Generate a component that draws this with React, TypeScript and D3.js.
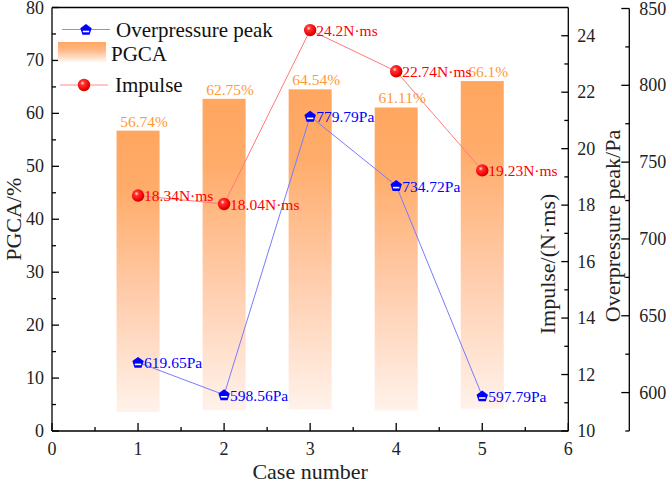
import React from "react";
import * as d3 from "d3";

const cases = [1, 2, 3, 4, 5];
const pgca = [56.74, 62.75, 64.54, 61.11, 66.1];
const pgcaLabels = ["56.74%", "62.75%", "64.54%", "61.11%", "66.1%"];
const impulse = [18.34, 18.04, 24.2, 22.74, 19.23];
const impulseLabels = ["18.34N·ms", "18.04N·ms", "24.2N·ms", "22.74N·ms", "19.23N·ms"];
const overpressure = [619.65, 598.56, 779.79, 734.72, 597.79];
const overLabels = ["619.65Pa", "598.56Pa", "779.79Pa", "734.72Pa", "597.79Pa"];
const xTicks = [0, 1, 2, 3, 4, 5, 6];
const pgcaTicks = [0, 10, 20, 30, 40, 50, 60, 70, 80];
const impulseTicks = [10, 12, 14, 16, 18, 20, 22, 24];
const overTicks = [600, 650, 700, 750, 800, 850];

const W = 666;
const H = 489;
const L = 52;
const R = 568.3;
const T = 7.5;
const B = 431;
const OX = 629.3;
const FONT = "'Times New Roman', 'Liberation Serif', 'DejaVu Serif', serif";
const LABEL_FS = 15.5;

const x = d3.scaleLinear().domain([0, 6]).range([L, R]);
const yP = d3.scaleLinear().domain([0, 80]).range([B, T]);
const yI = d3.scaleLinear().domain([10, 25]).range([B, T]);
const yO = d3.scaleLinear().domain([575, 850]).range([B, 8.5]);

function pentagon(cx: number, cy: number, r: number) {
  const pts = d3.range(5).map((i) => {
    const a = -Math.PI / 2 + (i * 2 * Math.PI) / 5;
    return [cx + r * Math.cos(a), cy + r * Math.sin(a) + 0.5];
  });
  return pts.map((p) => p.join(",")).join(" ");
}

function PentMarker({ cx, cy }: { cx: number; cy: number }) {
  return (
    <g>
      <polygon points={pentagon(cx, cy, 6)} fill="#0000FF" />
      <rect x={cx - 3.2} y={cy + 1.2} width={6.4} height={1.6} fill="#ffffff" />
    </g>
  );
}

function Sphere({ cx, cy }: { cx: number; cy: number }) {
  return <circle cx={cx} cy={cy} r={6.2} fill="url(#sphereGrad)" />;
}

function T_({ children, ...rest }: any) {
  return (
    <text fontFamily={FONT} {...rest}>
      {children}
    </text>
  );
}

export default function App() {
  const barW = x(0.5) - x(0);
  const impLine = d3
    .line<number>()
    .x((_, i) => x(cases[i]))
    .y((d) => yI(d))(impulse) as string;
  const ovLine = d3
    .line<number>()
    .x((_, i) => x(cases[i]))
    .y((d) => yO(d))(overpressure) as string;

  const xMinor = d3.range(0.5, 6, 1);
  const pMinor = d3.range(5, 80, 10);
  const iMinor = d3.range(11, 25, 2);
  const oMinor = d3.range(575, 850, 50);

  return (
    <svg
      width={W}
      height={H}
      style={{ position: "absolute", left: 0, top: 0, background: "#fff" }}
    >
      <defs>
        <linearGradient id="barGrad" x1="0" y1="0" x2="0" y2="1">
          <stop offset="0" stopColor="#FFA660" />
          <stop offset="0.2" stopColor="#FFAC6A" />
          <stop offset="0.55" stopColor="#FFCCAB" />
          <stop offset="0.935" stopColor="#FFF2EA" />
          <stop offset="0.94" stopColor="#FFFFFF" stopOpacity="0" />
          <stop offset="1" stopColor="#FFFFFF" stopOpacity="0" />
        </linearGradient>
        <linearGradient id="legGrad" x1="0" y1="0" x2="0" y2="1">
          <stop offset="0" stopColor="#FFA762" />
          <stop offset="0.4" stopColor="#FFB884" />
          <stop offset="1" stopColor="#FFF6F0" />
        </linearGradient>
        <radialGradient id="sphereGrad" cx="0.38" cy="0.35" r="0.7">
          <stop offset="0" stopColor="#FFE0E0" />
          <stop offset="0.25" stopColor="#FF3030" />
          <stop offset="0.75" stopColor="#F00000" />
          <stop offset="1" stopColor="#B00000" />
        </radialGradient>
      </defs>

      {pgca.map((v, i) => (
        <rect
          key={"b" + i}
          x={x(cases[i]) - barW / 2}
          y={yP(v)}
          width={barW}
          height={yP(0) - yP(v)}
          fill="url(#barGrad)"
        />
      ))}
      {pgca.map((v, i) => (
        <T_
          key={"bl" + i}
          x={x(cases[i]) + 6}
          y={yP(v) - 4}
          textAnchor="middle"
          fontSize={LABEL_FS}
          fill="#FF9A33"
        >
          {pgcaLabels[i]}
        </T_>
      ))}

      <path d={impLine} fill="none" stroke="#FF7A7A" strokeWidth={1} />
      <path d={ovLine} fill="none" stroke="#7A7AFF" strokeWidth={1} />

      {impulse.map((v, i) => (
        <g key={"i" + i}>
          <Sphere cx={x(cases[i])} cy={yI(v)} />
          <T_ x={x(cases[i]) + 6} y={yI(v) + 5.5} fontSize={LABEL_FS} fill="#FF0000">
            {impulseLabels[i]}
          </T_>
        </g>
      ))}
      {overpressure.map((v, i) => (
        <g key={"o" + i}>
          <PentMarker cx={x(cases[i])} cy={yO(v)} />
          <T_ x={x(cases[i]) + 6} y={yO(v) + 6} fontSize={LABEL_FS} fill="#0000FF">
            {overLabels[i]}
          </T_>
        </g>
      ))}

      <g stroke="#000" strokeWidth={1.3} fill="none">
        <line x1={L} x2={R} y1={B} y2={B} />
        <line x1={L} x2={R} y1={T} y2={T} />
        <line x1={L} x2={L} y1={T} y2={B} />
        <line x1={R} x2={R} y1={T} y2={B} />
        <line x1={OX} x2={OX} y1={yO(850)} y2={B} />
      </g>

      <g stroke="#000" strokeWidth={1.3}>
        {xTicks.map((t) => (
          <line key={"xt" + t} x1={x(t)} x2={x(t)} y1={B} y2={B - 8} />
        ))}
        {xMinor.map((t) => (
          <line key={"xm" + t} x1={x(t)} x2={x(t)} y1={B} y2={B - 4} />
        ))}
        {pgcaTicks.map((t) => (
          <line key={"pt" + t} x1={L} x2={L + 7} y1={yP(t)} y2={yP(t)} />
        ))}
        {pMinor.map((t) => (
          <line key={"pm" + t} x1={L} x2={L + 4} y1={yP(t)} y2={yP(t)} />
        ))}
        {impulseTicks.map((t) => (
          <line key={"it" + t} x1={R} x2={R - 7} y1={yI(t)} y2={yI(t)} />
        ))}
        {iMinor.map((t) => (
          <line key={"im" + t} x1={R} x2={R - 4} y1={yI(t)} y2={yI(t)} />
        ))}
        {overTicks.map((t) => (
          <line key={"ot" + t} x1={OX} x2={OX - 8} y1={yO(t)} y2={yO(t)} />
        ))}
        {oMinor.map((t) => (
          <line key={"om" + t} x1={OX} x2={OX - 4} y1={yO(t)} y2={yO(t)} />
        ))}
      </g>

      <g fill="#222">
        {xTicks.map((t) => (
          <T_ key={"xl" + t} x={x(t)} y={455} textAnchor="middle" fontSize={18}>
            {t}
          </T_>
        ))}
        {pgcaTicks.map((t) => (
          <T_ key={"pl" + t} x={L - 8} y={Math.max(yP(t) + 6, 14)} textAnchor="end" fontSize={18}>
            {t}
          </T_>
        ))}
        {impulseTicks.map((t) => (
          <T_ key={"il" + t} x={R + 9} y={yI(t) + 6} textAnchor="start" fontSize={18}>
            {t}
          </T_>
        ))}
        {overTicks.map((t) => (
          <T_ key={"ol" + t} x={OX + 10} y={yO(t) + 6} textAnchor="start" fontSize={18}>
            {t}
          </T_>
        ))}
      </g>

      <g fill="#222">
        <T_ x={(L + R) / 2} y={479} textAnchor="middle" fontSize={22}>
          Case number
        </T_>
        <T_ transform={`translate(21, ${(T + B) / 2}) rotate(-90)`} textAnchor="middle" fontSize={22}>
          PGCA/%
        </T_>
        <T_ transform={`translate(555, 264) rotate(-90)`} textAnchor="middle" fontSize={22}>
          Impulse/(N·ms)
        </T_>
        <T_ transform={`translate(620, 226) rotate(-90)`} textAnchor="middle" fontSize={22}>
          Overpressure peak/Pa
        </T_>
      </g>

      <g>
        <line x1={62} x2={110} y1={29.5} y2={29.5} stroke="#8C8CFF" strokeWidth={1} />
        <PentMarker cx={86} cy={29.5} />
        <T_ x={116} y={36.5} fontSize={21} fill="#111">
          Overpressure peak
        </T_>
        <rect x={58} y={42} width={48} height={20} fill="url(#legGrad)" />
        <T_ x={111} y={61} fontSize={21} fill="#111">
          PGCA
        </T_>
        <line x1={60} x2={108} y1={85} y2={85} stroke="#FF8C8C" strokeWidth={1} />
        <Sphere cx={84} cy={85} />
        <T_ x={115} y={92} fontSize={21} fill="#111">
          Impulse
        </T_>
      </g>
    </svg>
  );
}
